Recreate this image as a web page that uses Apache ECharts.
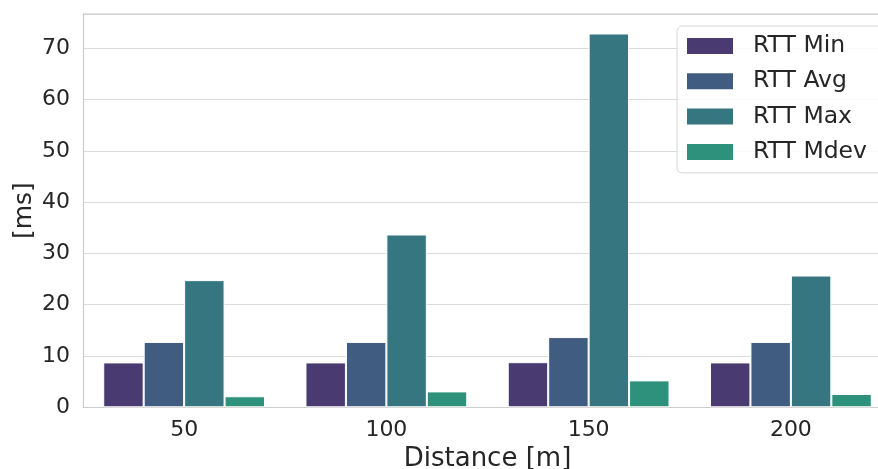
<!DOCTYPE html>
<html>
<head>
<meta charset="utf-8">
<script src="https://cdn.jsdelivr.net/npm/echarts@6/dist/echarts.min.js"></script>
<style>html,body{margin:0;padding:0;background:#fff;}#c{width:878px;height:469px;}</style>
</head>
<body>
<div id="c"></div>
<script>
const categories = ['50', '100', '150', '200'];
const seriesNames = ['RTT Min', 'RTT Avg', 'RTT Max', 'RTT Mdev'];
const rttMin = [8.75, 8.75, 8.8, 8.75];
const rttAvg = [12.75, 12.75, 13.7, 12.75];
const rttMax = [24.8, 33.7, 72.9, 25.7];
const rttMdev = [2.15, 3.1, 5.25, 2.6];
const yTicks = [0, 10, 20, 30, 40, 50, 60, 70];
const colors = ['#4a3a72', '#405d81', '#357680', '#2e917b'];

const font = 'DejaVu Sans';
const values = [rttMin, rttAvg, rttMax, rttMdev];
const chart = echarts.init(document.getElementById('c'), null, {renderer: 'canvas'});
chart.setOption({
  animation: false,
  backgroundColor: '#fff',
  grid: {left: 83, top: 14, width: 809, height: 393.3, containLabel: false, outerBoundsMode: 'none'},
  legend: {
    orient: 'vertical', left: 677, top: 26,
    data: seriesNames,
    itemWidth: 46, itemHeight: 16, itemGap: 11.3,
    padding: [8, 20, 9, 10],
    borderColor: '#d6d6d6', borderWidth: 1, borderRadius: 5,
    backgroundColor: 'rgba(255,255,255,0.85)',
    icon: 'rect',
    textStyle: {fontFamily: font, fontSize: 23.5, color: '#262626', padding: [0, 0, 0, 15]},
    itemStyle: {borderWidth: 0}
  },
  xAxis: {
    type: 'category', data: categories,
    name: 'Distance [m]', nameLocation: 'middle', nameGap: 36,
    nameTextStyle: {fontFamily: font, fontSize: 26, color: '#262626'},
    axisLine: {show: true, lineStyle: {color: '#cccccc', width: 1.2}},
    axisTick: {show: false},
    axisLabel: {fontFamily: font, fontSize: 22, color: '#262626', margin: 12},
    splitLine: {show: false}
  },
  yAxis: {
    type: 'value', min: 0, max: 76.7, interval: 10,
    name: '[ms]', nameLocation: 'middle', nameGap: 46, nameMoveOverlap: false,
    nameTextStyle: {fontFamily: font, fontSize: 25, color: '#262626'},
    axisLine: {show: true, lineStyle: {color: '#cccccc', width: 1.2}},
    axisTick: {show: false},
    axisLabel: {fontFamily: font, fontSize: 22, color: '#262626', margin: 13, showMaxLabel: false,
      formatter: v => yTicks.includes(v) ? String(v) : ''},
    splitLine: {show: true, lineStyle: {color: '#dcdcdc', width: 1.2}}
  },
  series: seriesNames.map((n, i) => ({
    name: n, type: 'bar', data: values[i],
    barGap: '0%', barCategoryGap: '20%',
    itemStyle: {color: colors[i], borderColor: '#ffffff', borderWidth: 1}
  }))
});
// top spine
chart.setOption({
  graphic: [{type: 'line', shape: {x1: 83, y1: 14, x2: 878, y2: 14}, style: {stroke: '#cccccc', lineWidth: 1.2}}]
});
</script>
</body>
</html>
